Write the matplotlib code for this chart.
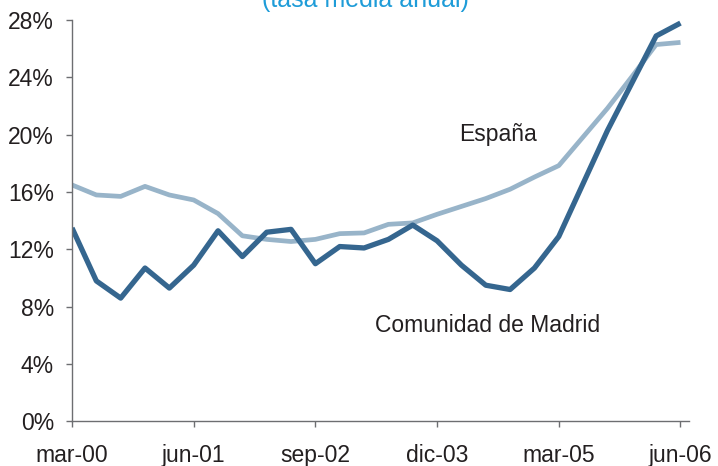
import numpy as np
import matplotlib
matplotlib.use("Agg")
import matplotlib.pyplot as plt

plt.rcParams['font.family'] = ['Liberation Sans', 'DejaVu Sans']

# quarterly, mar-00 .. jun-06
quarters = list(range(26))
tick_pos = [0, 5, 10, 15, 20, 25]
tick_labels = ['mar-00', 'jun-01', 'sep-02', 'dic-03', 'mar-05', 'jun-06']

madrid = [13.5, 9.8, 8.6, 10.7, 9.3, 10.9, 13.3, 11.5, 13.2, 13.4,
          11.0, 12.2, 12.1, 12.7, 13.7, 12.6, 10.9, 9.5, 9.2, 10.7,
          12.9, 16.6, 20.3, 23.6, 26.9, 27.8]
espana = [16.5, 15.8, 15.7, 16.4, 15.8, 15.45, 14.5, 12.95, 12.7, 12.55,
          12.7, 13.1, 13.15, 13.75, 13.85, 14.45, 15.0, 15.55, 16.2, 17.05,
          17.85, 19.85, 21.85, 24.05, 26.3, 26.45]

fig = plt.figure(figsize=(7.18, 4.66), dpi=100)
ax = fig.add_axes([72/718, 1-421.3/466, 617/718, 401.1/466])

ax.plot(quarters, espana, color='#98b4c9', lw=3.4, solid_capstyle='butt')
ax.plot(quarters, madrid, color='#35668f', lw=3.8, solid_capstyle='butt')

ax.set_xlim(0, 25.35)
ax.set_ylim(0, 28)
ax.set_yticks(np.arange(0, 29, 4))
ax.set_yticklabels([f'{v}%' for v in range(0, 29, 4)])
ax.set_xticks(tick_pos)
ax.set_xticklabels(tick_labels)

for s in ['top', 'right']:
    ax.spines[s].set_visible(False)
for s in ['left', 'bottom']:
    ax.spines[s].set_color('#6d6e71')
    ax.spines[s].set_linewidth(1.0)
ax.tick_params(axis='both', colors='#6d6e71', labelcolor='#231f20',
               labelsize=16.5, length=4, width=1.0)
ax.tick_params(axis='y', pad=9)
ax.tick_params(axis='x', pad=12)

ax.text(15.9, 19.6, 'España', fontsize=16.5, color='#231f20')
ax.text(12.45, 6.2, 'Comunidad de Madrid', fontsize=16.5, color='#231f20')

fig.text(365/718, 1.0, '(tasa media anual)', fontsize=18, color='#1e9cd8',
         ha='center', va='center')

fig.savefig('out.png', dpi=100)
